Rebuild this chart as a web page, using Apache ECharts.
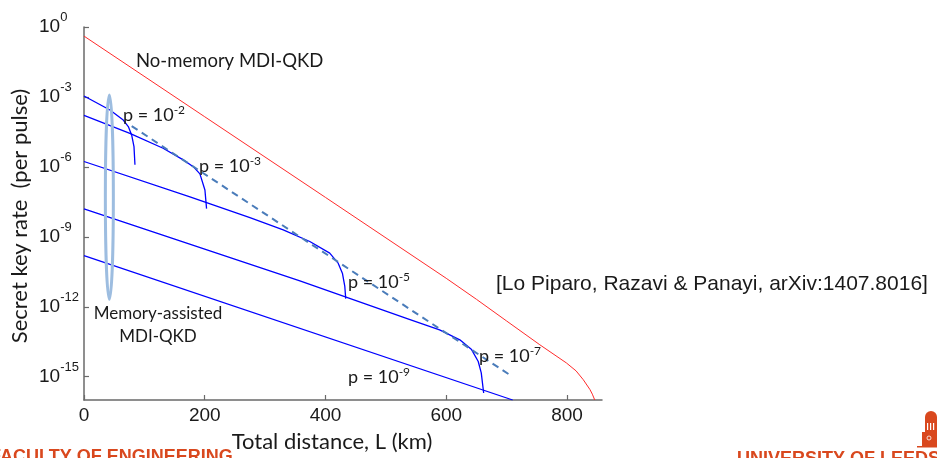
<!DOCTYPE html>
<html><head><meta charset="utf-8">
<script src="https://cdn.jsdelivr.net/npm/echarts@6/dist/echarts.min.js"></script>
<style>html,body{margin:0;padding:0;background:#fff;overflow:hidden}#c{width:937px;height:458px}</style>
</head><body><div id="c"></div>
<script>
// ---- data (distance in km, secret key rate per pulse) ----
const xTicks = [0, 200, 400, 600, 800];
const yTickExps = [0, -3, -6, -9, -12, -15];

const noMemKm   = [0, 200, 400, 600, 650, 700, 755, 799, 815, 827, 838, 842, 846];
const noMemRate = [4.07e-1, 1.41e-4, 4.90e-8, 1.66e-11, 2.09e-12, 2.45e-13, 2.34e-14, 3.89e-15, 1.78e-15, 7.41e-16, 2.82e-16, 1.78e-16, 1.0e-16];

const p2Km   = [0, 43, 65, 73.4, 78.9, 82.8, 84.4];
const p2Rate = [1.10e-3, 2.75e-4, 1.02e-4, 5.37e-5, 2.34e-5, 7.41e-6, 1.23e-6];

const p3Km   = [0, 76, 131, 164.4, 181, 192, 200.3, 203];
const p3Rate = [1.62e-4, 2.75e-5, 6.31e-6, 2.0e-6, 1.02e-6, 5.01e-7, 1.02e-7, 1.62e-8];

const p5Km   = [0, 175.5, 274.8, 330, 374, 407, 421, 428, 432, 433.5];
const p5Rate = [1.70e-6, 5.13e-8, 6.61e-9, 2.0e-9, 6.31e-10, 2.0e-10, 7.41e-11, 2.75e-11, 7.41e-12, 2.24e-12];

const p7Km   = [0, 357.6, 540, 589, 622.5, 642, 653, 658, 662];
const p7Rate = [1.58e-8, 1.29e-11, 2.82e-13, 1.02e-13, 3.80e-14, 1.45e-14, 4.47e-15, 1.45e-15, 2.0e-16];

const p9Km   = [0, 710];
const p9Rate = [1.55e-10, 1.0e-16];

const envKm   = [79, 708];
const envRate = [5.62e-5, 1.07e-15];

// ellipse annotation anchor (km, rate)
const ellipseCenter = [42, 5.0e-8];
const ellipseTop = [42, 1.2e-3];

const pair = (xs, ys) => xs.map((x, i) => [x, ys[i]]);

const TXT = '#1a1a1a';
const CAL = 'Lato, "Open Sans", sans-serif';
const ARI = '"Liberation Sans", Arial, sans-serif';
const AX = '#6a6a6a';
const ORANGE = '#d9481e';

const chart = echarts.init(document.getElementById('c'), null, {renderer: 'canvas'});

const blue = {color: '#0000ff', width: 1.3};
function line(name, data, ls) {
  return {name, type: 'line', data, showSymbol: false, symbol: 'none', yAxisIndex: 0,
    lineStyle: ls, itemStyle: {color: ls.color}, silent: true, animation: false, clip: true, z: 3};
}

function pLabel(x, y, exp) {
  return {type: 'text', x, y, z: 10, style: {
    text: '{a|p = 10}{s|' + exp + '}', verticalAlign: 'middle', align: 'left',
    rich: {
      a: {fontFamily: CAL, fontSize: 18, lineHeight: 22, verticalAlign: 'middle', fill: TXT},
      s: {fontFamily: CAL, fontSize: 12, lineHeight: 12, verticalAlign: 'top', fill: TXT}
    }}};
}

const graphics = [
  {type: 'text', x: 136, y: 61, z: 10, style: {text: 'No-memory MDI-QKD', font: '18.5px ' + CAL, fill: TXT, verticalAlign: 'middle'}},
  pLabel(123, 115, '-2'),
  pLabel(199, 166, '-3'),
  pLabel(348, 282, '-5'),
  pLabel(479, 356, '-7'),
  pLabel(348, 377, '-9'),
  {type: 'text', x: 158, y: 314, z: 10, style: {text: 'Memory-assisted', font: '17px ' + CAL, fill: TXT, align: 'center', verticalAlign: 'middle'}},
  {type: 'text', x: 158, y: 337, z: 10, style: {text: 'MDI-QKD', font: '17px ' + CAL, fill: TXT, align: 'center', verticalAlign: 'middle'}},
  {type: 'text', x: 496, y: 284, z: 10, style: {text: '[Lo Piparo, Razavi & Panayi, arXiv:1407.8016]', font: '21px ' + ARI, fill: TXT, verticalAlign: 'middle'}},
  {type: 'text', x: 332, y: 442, z: 10, style: {text: 'Total distance, L (km)', font: '22px ' + CAL, fill: TXT, align: 'center', verticalAlign: 'middle'}},
  {type: 'text', x: 20, y: 216, rotation: Math.PI / 2, z: 10, style: {text: 'Secret key rate  (per pulse)', font: '22px ' + CAL, fill: TXT, align: 'center', verticalAlign: 'middle'}},
  {type: 'text', x: -10, y: 448, z: 10, style: {text: 'FACULTY OF ENGINEERING', font: 'bold 18px ' + ARI, fill: ORANGE, verticalAlign: 'top'}},
  {type: 'text', x: 737, y: 450, z: 10, style: {text: 'UNIVERSITY OF LEEDS', font: 'bold 18px ' + ARI, fill: ORANGE, verticalAlign: 'top'}},
  // logo (tower)
  {type: 'group', z: 10, children: [
    {type: 'circle', shape: {cx: 931, cy: 417, r: 6}, style: {fill: ORANGE}},
    {type: 'rect', shape: {x: 925, y: 417, width: 12, height: 29}, style: {fill: ORANGE}},
    {type: 'rect', shape: {x: 922, y: 432, width: 15, height: 14}, style: {fill: ORANGE}},
    {type: 'rect', shape: {x: 917, y: 446, width: 20, height: 1.5}, style: {fill: ORANGE}},
    {type: 'rect', shape: {x: 927, y: 423, width: 1.2, height: 7}, style: {fill: '#fff'}},
    {type: 'rect', shape: {x: 930, y: 423, width: 1.2, height: 7}, style: {fill: '#fff'}},
    {type: 'rect', shape: {x: 933, y: 423, width: 1.2, height: 7}, style: {fill: '#fff'}},
    {type: 'circle', shape: {cx: 929, cy: 438, r: 2}, style: {fill: 'none', stroke: '#fff', lineWidth: 0.8}}
  ]}
];

const option = {
  animation: false,
  backgroundColor: '#fff',
  grid: {left: 84, top: 27, width: 518, height: 373, containLabel: false},
  xAxis: {
    type: 'value', min: 0, max: 858, position: 'bottom',
    axisLine: {show: true, onZero: false, lineStyle: {color: AX, width: 1.5}},
    axisTick: {show: true, inside: true, length: 5, lineStyle: {color: AX, width: 1.2}, customValues: xTicks},
    axisLabel: {show: true, customValues: xTicks, color: TXT, fontFamily: ARI, fontSize: 19, margin: 6},
    splitLine: {show: false}
  },
  yAxis: [
    {
      type: 'log', logBase: 10, min: 1e-16, max: 1, position: 'left',
      axisLine: {show: true, onZero: false, lineStyle: {color: AX, width: 1.5}},
      axisTick: {show: false}, axisLabel: {show: false}, splitLine: {show: false}, minorTick: {show: false}
    },
    {
      type: 'value', min: -16, max: 0, position: 'left', offset: 0,
      axisLine: {show: false, onZero: false},
      axisTick: {show: true, inside: true, length: 5, lineStyle: {color: AX, width: 1.2}, customValues: yTickExps},
      axisLabel: {
        show: true, customValues: yTickExps, align: 'left', margin: 45,
        formatter: v => '{b|10}{s|' + v + '}',
        rich: {
          b: {fontFamily: ARI, fontSize: 19, lineHeight: 32, verticalAlign: 'middle', color: TXT},
          s: {fontFamily: ARI, fontSize: 13, lineHeight: 13, verticalAlign: 'top', color: TXT}
        }
      },
      splitLine: {show: false}
    }
  ],
  series: [
    line('No-memory MDI-QKD', pair(noMemKm, noMemRate), {color: '#ff2b2b', width: 1}),
    line('p=1e-2', pair(p2Km, p2Rate), blue),
    line('p=1e-3', pair(p3Km, p3Rate), blue),
    line('p=1e-5', pair(p5Km, p5Rate), blue),
    line('p=1e-7', pair(p7Km, p7Rate), blue),
    line('p=1e-9', pair(p9Km, p9Rate), blue),
    line('envelope', pair(envKm, envRate), {color: '#4a7cba', width: 2, type: [7, 5]})
  ],
  graphic: graphics
};
chart.setOption(option);

// ellipse placed through the axes' own conversion
const c = chart.convertToPixel({xAxisIndex: 0, yAxisIndex: 0}, ellipseCenter);
const t = chart.convertToPixel({xAxisIndex: 0, yAxisIndex: 0}, ellipseTop);
chart.setOption({graphic: graphics.concat([{
  type: 'ellipse', z: 9, shape: {cx: c[0], cy: c[1], rx: 4, ry: c[1] - t[1]},
  style: {fill: 'none', stroke: '#9dbde0', lineWidth: 3}
}])}, {replaceMerge: ['graphic']});
</script>
</body></html>
